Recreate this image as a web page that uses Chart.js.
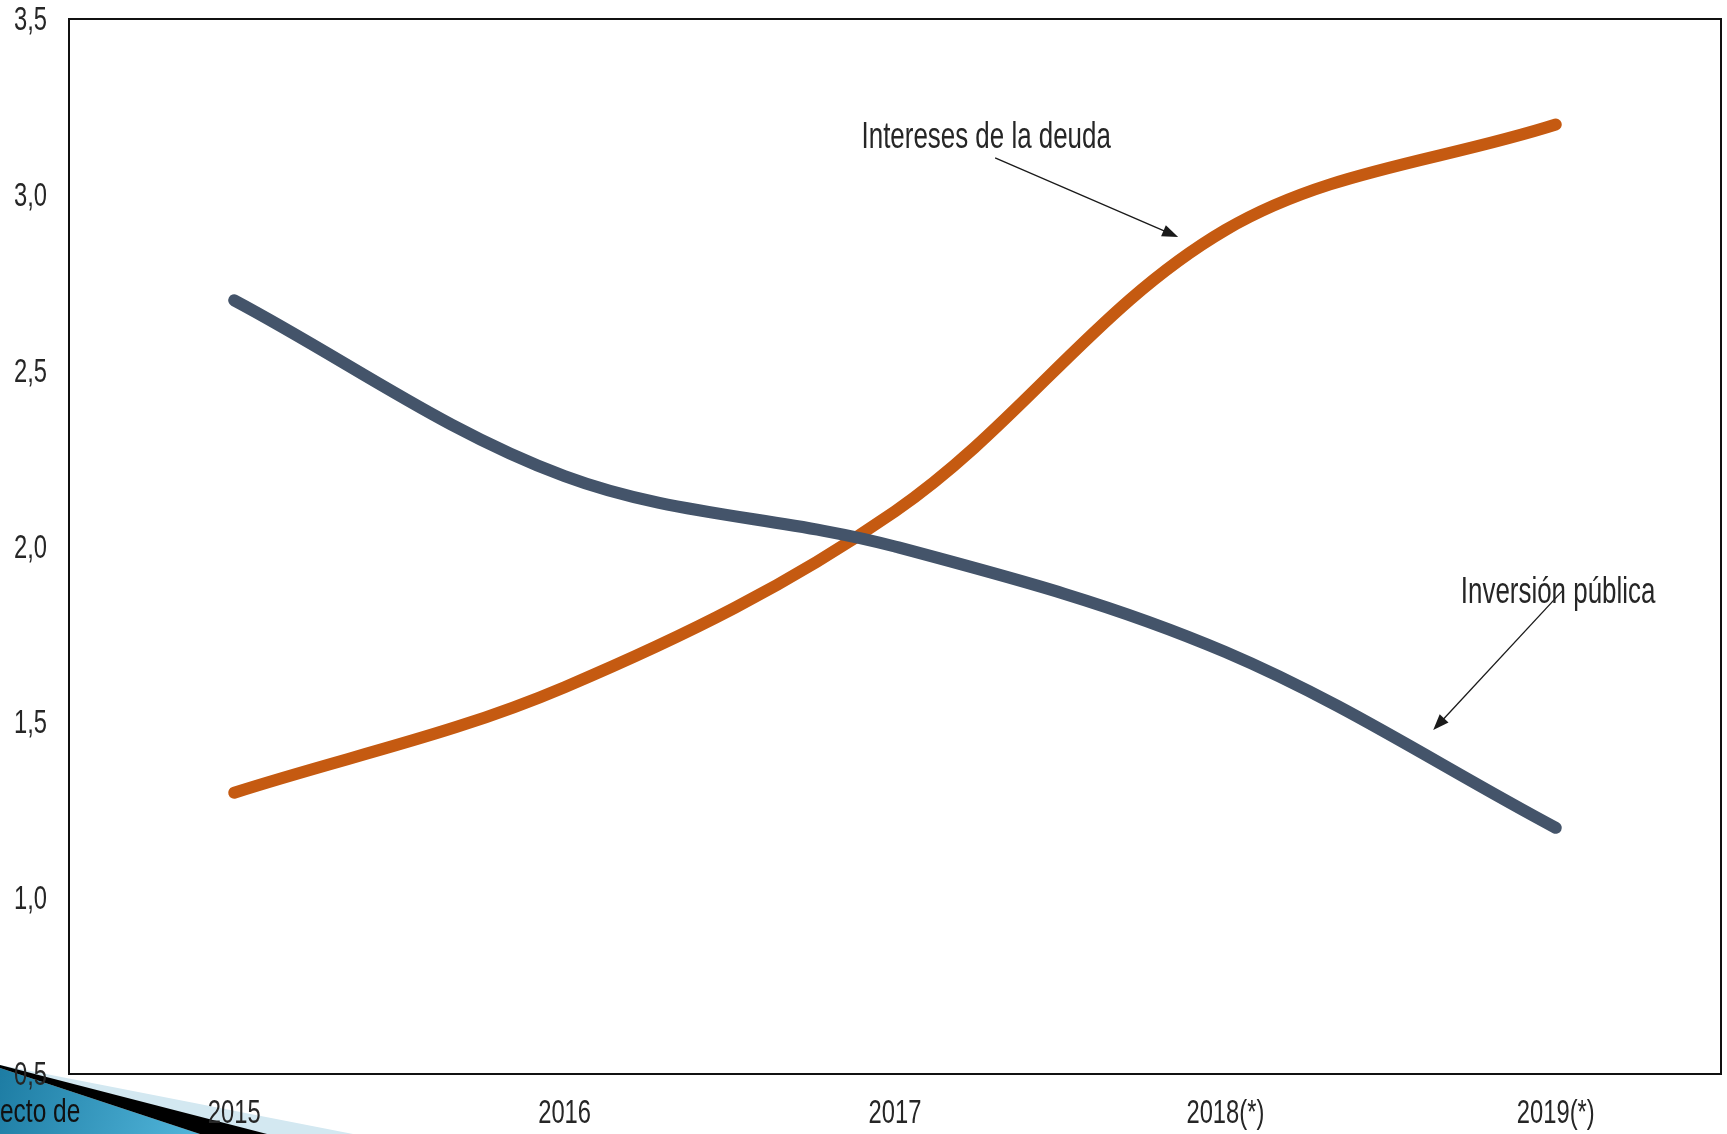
<!DOCTYPE html>
<html>
<head>
<meta charset="utf-8">
<script src="https://cdn.jsdelivr.net/npm/chart.js@4"></script>
<style>
  html, body { margin: 0; padding: 0; background: #fff; }
  #wrap { width: 1727px; height: 1134px; position: relative; }
</style>
</head>
<body>
<div id="wrap"><canvas id="chart"></canvas></div>
<script>
// data
var years = ['2015', '2016', '2017', '2018(*)', '2019(*)'];
var inversionPublica = [2.7, 2.2, 2.0, 1.7, 1.2];
var interesesDeuda = [1.3, 1.6, 2.1, 2.9, 3.2];

var FONT = '"Liberation Sans", Arial, sans-serif';
var TEXT = '#262626';
var NARROW = 0.72; // the original uses a narrow face, squeeze text to match

// notes placed in data units (x = category index, y = value)
var notes = [
    { text: 'Intereses de la deuda', x: 2.276, y: 3.17, from: [2.303, 3.105], to: [2.857, 2.88] },
    { text: 'Inversión pública', x: 4.007, y: 1.876, from: [4.022, 1.876], to: [3.629, 1.478] }
];

function narrowText(ctx, str, x, y, size, align) {
    ctx.save();
    ctx.font = size + 'px ' + FONT;
    ctx.textAlign = align;
    ctx.textBaseline = 'alphabetic';
    ctx.translate(x, y);
    ctx.scale(NARROW, 1);
    ctx.fillText(str, 0, 0);
    ctx.restore();
}

function arrow(ctx, x1, y1, x2, y2) {
    var a = Math.atan2(y2 - y1, x2 - x1), len = 16, w = 6;
    ctx.beginPath();
    ctx.moveTo(x1, y1);
    ctx.lineTo(x2 - Math.cos(a) * len * 0.8, y2 - Math.sin(a) * len * 0.8);
    ctx.stroke();
    ctx.beginPath();
    ctx.moveTo(x2, y2);
    ctx.lineTo(x2 - Math.cos(a) * len + Math.sin(a) * w, y2 - Math.sin(a) * len - Math.cos(a) * w);
    ctx.lineTo(x2 - Math.cos(a) * len - Math.sin(a) * w, y2 - Math.sin(a) * len + Math.cos(a) * w);
    ctx.closePath();
    ctx.fill();
}

var slideBits = {
    id: 'slideBits',
    beforeDraw: function (chart) {
        var ctx = chart.ctx, h = chart.height;
        ctx.save();
        // leftover slide decoration, bottom left
        ctx.fillStyle = '#d3e8f1';
        ctx.beginPath();
        ctx.moveTo(0, h - 69); ctx.lineTo(353, h); ctx.lineTo(0, h);
        ctx.closePath(); ctx.fill();
        var g = ctx.createLinearGradient(0, h - 66, 200, h);
        g.addColorStop(0, '#1d7ca3');
        g.addColorStop(1, '#52b6db');
        ctx.fillStyle = g;
        ctx.beginPath();
        ctx.moveTo(0, h - 66); ctx.lineTo(200, h); ctx.lineTo(0, h);
        ctx.closePath(); ctx.fill();
        ctx.fillStyle = '#000';
        ctx.beginPath();
        ctx.moveTo(0, h - 69); ctx.lineTo(267, h); ctx.lineTo(200, h); ctx.lineTo(0, h - 66);
        ctx.closePath(); ctx.fill();
        ctx.fillStyle = '#111';
        narrowText(ctx, 'ecto de', 0, h - 12, 34, 'left');
        ctx.restore();
    },
    beforeDatasetsDraw: function (chart) {
        var a = chart.chartArea, ctx = chart.ctx;
        ctx.save();
        ctx.strokeStyle = '#111';
        ctx.lineWidth = 2;
        ctx.strokeRect(a.left, a.top, a.right - a.left, a.bottom - a.top);
        ctx.restore();
    },
    afterDatasetsDraw: function (chart) {
        var ctx = chart.ctx, xs = chart.scales.x, ys = chart.scales.y;
        ctx.save();
        // tick labels from the scales' own ticks, in the narrow face
        ctx.fillStyle = TEXT;
        ys.ticks.forEach(function (t, i) {
            narrowText(ctx, t.value.toFixed(1).replace('.', ','), 47, ys.getPixelForTick(i) + 11, 33, 'right');
        });
        xs.ticks.forEach(function (t, i) {
            narrowText(ctx, years[t.value], xs.getPixelForTick(i), chart.chartArea.bottom + 49, 33, 'center');
        });
        // notes with arrows
        ctx.strokeStyle = '#1a1a1a';
        ctx.fillStyle = '#1a1a1a';
        ctx.lineWidth = 1.3;
        notes.forEach(function (n) {
            arrow(ctx, xs.getPixelForValue(n.from[0]), ys.getPixelForValue(n.from[1]),
                xs.getPixelForValue(n.to[0]), ys.getPixelForValue(n.to[1]));
        });
        ctx.fillStyle = TEXT;
        notes.forEach(function (n) {
            narrowText(ctx, n.text, xs.getPixelForValue(n.x), ys.getPixelForValue(n.y) + 13, 36, 'center');
        });
        ctx.restore();
    }
};

var chart = new Chart(document.getElementById('chart').getContext('2d'), {
    type: 'line',
    data: {
        labels: years,
        datasets: [
            {
                label: 'Inversión pública',
                data: inversionPublica,
                borderColor: '#44546a',
                borderWidth: 12,
                borderCapStyle: 'round',
                borderJoinStyle: 'round',
                pointRadius: 0,
                tension: 0.35,
                fill: false
            },
            {
                label: 'Intereses de la deuda',
                data: interesesDeuda,
                borderColor: '#c55a11',
                borderWidth: 12,
                borderCapStyle: 'round',
                borderJoinStyle: 'round',
                pointRadius: 0,
                tension: 0.35,
                fill: false
            }
        ]
    },
    options: {
        responsive: true,
        maintainAspectRatio: false,
        animation: false,
        devicePixelRatio: 1,
        layout: { padding: { top: 19, right: 6, left: 0, bottom: 0 } },
        plugins: {
            legend: { display: false },
            tooltip: { enabled: false }
        },
        scales: {
            x: {
                offset: true,
                grid: { display: false, drawTicks: false },
                border: { display: false },
                ticks: { display: false },
                afterFit: function (s) { s.height = 60; }
            },
            y: {
                min: 0.5,
                max: 3.5,
                grid: { display: false, drawTicks: false },
                border: { display: false },
                ticks: { display: false, stepSize: 0.5 },
                afterFit: function (s) { s.width = 69; }
            }
        }
    },
    plugins: [slideBits]
});
</script>
</body>
</html>
